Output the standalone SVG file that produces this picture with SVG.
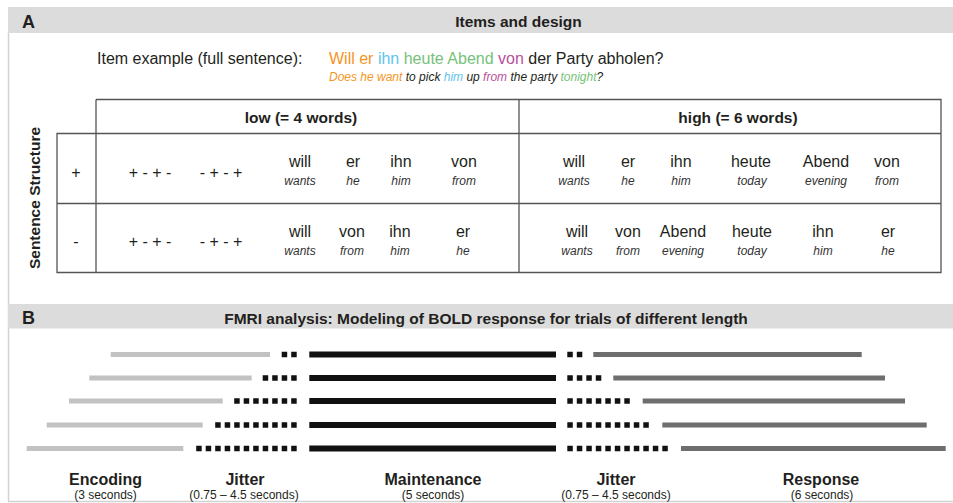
<svg xmlns="http://www.w3.org/2000/svg" width="953" height="503" viewBox="0 0 953 503">
<style>
text{font-family:"Liberation Sans",Arial,sans-serif;fill:#231f20}
.hdr{fill:#dcdcdc}
.lbl{font-size:18px;font-weight:bold}
.ttl{font-size:15.5px;font-weight:bold;text-anchor:middle}
.w{font-size:16px;text-anchor:middle}
.t{font-size:12px;font-style:italic;text-anchor:middle;fill:#333}
.pm{font-size:16px;text-anchor:middle}
.grid{stroke:#555;stroke-width:1.3;fill:none}
.enc{stroke:#c2c2c2;stroke-width:5}
.mnt{stroke:#111;stroke-width:6}
.rsp{stroke:#6e6e6e;stroke-width:5}
.dot{stroke:#111;stroke-width:5.5;stroke-dasharray:5.5 4}
.ph{font-size:16px;font-weight:bold;text-anchor:middle}
.sub{font-size:12px;text-anchor:middle}
.or{fill:#f7941d}.bl{fill:#5ec4ec}.gr{fill:#76c27a}.mg{fill:#b8509c}
</style>
<rect width="953" height="503" fill="#ffffff"/>
<g id="panel-frame">
<line x1="8.5" y1="33" x2="8.5" y2="501" stroke="#d2d2d2" stroke-width="1.5"/>
<line x1="8" y1="501.5" x2="953" y2="501.5" stroke="#d2d2d2" stroke-width="1.5"/>
</g>
<g id="header-A">
<rect class="hdr" x="8" y="7" width="945" height="26"/>
<text class="lbl" x="22" y="27.5">A</text>
<text class="ttl" x="518.5" y="27">Items and design</text>
</g>
<g id="item-example">
<text x="97" y="64" font-size="16">Item example (full sentence):</text>
<text x="329" y="64" font-size="16"><tspan class="or">Will er</tspan> <tspan class="bl">ihn</tspan> <tspan class="gr">heute Abend</tspan> <tspan class="mg">von</tspan> der Party abholen?</text>
<text x="329" y="80.5" font-size="12" font-style="italic"><tspan class="or">Does he want</tspan> to pick <tspan class="bl">him</tspan> up <tspan class="mg">from</tspan> the party <tspan class="gr">tonight</tspan>?</text>
</g>
<g id="design-table">
<path class="grid" d="M96 99.5H941V272.5H57V133.5H941M57 203.5H941M96 99.5V272.5M519 99.5V272.5"/>
<text class="ttl" x="301" y="123">low (= 4 words)</text>
<text class="ttl" x="738" y="123">high (= 6 words)</text>
<text font-size="15.5" font-weight="bold" text-anchor="middle" transform="translate(40,198) rotate(-90)">Sentence Structure</text>
<text class="pm" x="76" y="178">+</text>
<text class="pm" x="76" y="247">-</text>
<text class="pm" x="150" y="178" xml:space="preserve">+ - + -</text>
<text class="pm" x="221" y="178" xml:space="preserve">- + - +</text>
<text class="pm" x="150" y="247" xml:space="preserve">+ - + -</text>
<text class="pm" x="221" y="247" xml:space="preserve">- + - +</text>
<g id="low-plus">
<text class="w" x="300" y="167">will</text><text class="t" x="300" y="185">wants</text>
<text class="w" x="353" y="167">er</text><text class="t" x="353" y="185">he</text>
<text class="w" x="401" y="167">ihn</text><text class="t" x="401" y="185">him</text>
<text class="w" x="464" y="167">von</text><text class="t" x="464" y="185">from</text>
</g>
<g id="low-minus">
<text class="w" x="300" y="237">will</text><text class="t" x="300" y="255">wants</text>
<text class="w" x="352" y="237">von</text><text class="t" x="352" y="255">from</text>
<text class="w" x="400" y="237">ihn</text><text class="t" x="400" y="255">him</text>
<text class="w" x="463" y="237">er</text><text class="t" x="463" y="255">he</text>
</g>
<g id="high-plus">
<text class="w" x="574" y="167">will</text><text class="t" x="574" y="185">wants</text>
<text class="w" x="628" y="167">er</text><text class="t" x="628" y="185">he</text>
<text class="w" x="681" y="167">ihn</text><text class="t" x="681" y="185">him</text>
<text class="w" x="751" y="167">heute</text><text class="t" x="752" y="185">today</text>
<text class="w" x="826" y="167">Abend</text><text class="t" x="826" y="185">evening</text>
<text class="w" x="887" y="167">von</text><text class="t" x="887" y="185">from</text>
</g>
<g id="high-minus">
<text class="w" x="577" y="237">will</text><text class="t" x="577" y="255">wants</text>
<text class="w" x="628" y="237">von</text><text class="t" x="628" y="255">from</text>
<text class="w" x="683" y="237">Abend</text><text class="t" x="683" y="255">evening</text>
<text class="w" x="752" y="237">heute</text><text class="t" x="752" y="255">today</text>
<text class="w" x="823" y="237">ihn</text><text class="t" x="823" y="255">him</text>
<text class="w" x="888" y="237">er</text><text class="t" x="888" y="255">he</text>
</g>
</g>
<g id="header-B">
<rect class="hdr" x="8" y="304" width="945" height="24.5"/>
<text class="lbl" x="22" y="324">B</text>
<text class="ttl" x="486" y="324">FMRI analysis: Modeling of BOLD response for trials of different length</text>
</g>
<g id="trials">
<g id="trial-1">
<line class="enc" x1="110.7" y1="354.5" x2="270" y2="354.5"/>
<line class="dot" x1="296.7" y1="354.5" x2="281.7" y2="354.5"/>
<line class="mnt" x1="309.3" y1="354.5" x2="556" y2="354.5"/>
<line class="dot" x1="567.3" y1="354.5" x2="582.3" y2="354.5"/>
<line class="rsp" x1="593.3" y1="354.5" x2="861.7" y2="354.5"/>
</g>
<g id="trial-2">
<line class="enc" x1="89.3" y1="378" x2="251.7" y2="378"/>
<line class="dot" x1="296.7" y1="378" x2="262.7" y2="378"/>
<line class="mnt" x1="309.3" y1="378" x2="556" y2="378"/>
<line class="dot" x1="567.3" y1="378" x2="601.3" y2="378"/>
<line class="rsp" x1="613.3" y1="378" x2="885" y2="378"/>
</g>
<g id="trial-3">
<line class="enc" x1="69" y1="401" x2="222.7" y2="401"/>
<line class="dot" x1="296.7" y1="401" x2="234.2" y2="401"/>
<line class="mnt" x1="309.3" y1="401" x2="556" y2="401"/>
<line class="dot" x1="567.3" y1="401" x2="629.8" y2="401"/>
<line class="rsp" x1="642.7" y1="401" x2="905" y2="401"/>
</g>
<g id="trial-4">
<line class="enc" x1="46.7" y1="425" x2="202.7" y2="425"/>
<line class="dot" x1="296.7" y1="425" x2="215.2" y2="425"/>
<line class="mnt" x1="309.3" y1="425" x2="556" y2="425"/>
<line class="dot" x1="567.3" y1="425" x2="648.8" y2="425"/>
<line class="rsp" x1="662.3" y1="425" x2="926.7" y2="425"/>
</g>
<g id="trial-5">
<line class="enc" x1="26.7" y1="448.5" x2="183.3" y2="448.5"/>
<line class="dot" x1="296.7" y1="448.5" x2="196.2" y2="448.5"/>
<line class="mnt" x1="309.3" y1="448.5" x2="556" y2="448.5"/>
<line class="dot" x1="567.3" y1="448.5" x2="667.8" y2="448.5"/>
<line class="rsp" x1="681" y1="448.5" x2="945.7" y2="448.5"/>
</g>
</g>
<g id="phase-labels">
<text class="ph" x="105.5" y="484.5">Encoding</text>
<text class="sub" x="105.5" y="498.5">(3 seconds)</text>
<text class="ph" x="245" y="484.5">Jitter</text>
<text class="sub" x="244" y="498.5">(0.75 – 4.5 seconds)</text>
<text class="ph" x="433" y="484.5">Maintenance</text>
<text class="sub" x="433" y="498.5">(5 seconds)</text>
<text class="ph" x="616" y="484.5">Jitter</text>
<text class="sub" x="616" y="498.5">(0.75 – 4.5 seconds)</text>
<text class="ph" x="821" y="484.5">Response</text>
<text class="sub" x="822" y="498.5">(6 seconds)</text>
</g>
</svg>
